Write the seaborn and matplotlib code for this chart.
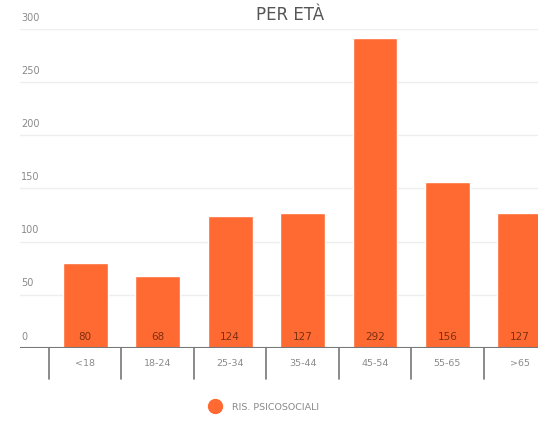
import matplotlib
matplotlib.use("Agg")
import matplotlib.pyplot as plt
import matplotlib.transforms as mtransforms
from matplotlib.lines import Line2D
import seaborn as sns
import pandas as pd

# Data
age_groups = ["<18", "18-24", "25-34", "35-44", "45-54", "55-65", ">65"]
cases = [80, 68, 124, 127, 292, 156, 127]
y_ticks = [0, 50, 100, 150, 200, 250, 300]
series_name = "RIS. PSICOSOCIALI"
title = "PER ETÀ"

bar_color = "#FF6A33"
label_color = "#7E2F10"
text_gray = "#8a8a8a"

sns.set_theme(style="white")
plt.rcParams["font.family"] = ["DejaVu Sans"]

W, H = 538, 426
fig = plt.figure(figsize=(W / 100, H / 100), dpi=100)
ax_left, ax_bottom, ax_top = 20, 348, 29
ax = fig.add_axes([ax_left / W, 1 - ax_bottom / H, 1 - ax_left / W, (ax_bottom - ax_top) / H])

df = pd.DataFrame({"group": age_groups, "value": cases})
sns.barplot(data=df, x="group", y="value", order=age_groups, color=bar_color,
            saturation=1, width=0.62, ax=ax, zorder=3)

ax.set_xlim(-0.9, 6.25)
ax.set_ylim(0, 300)
ax.set_xlabel("")
ax.set_ylabel("")

# Horizontal gridlines and left-aligned value labels above them
for t in y_ticks[1:]:
    ax.axhline(t, color="#eeeeee", lw=1, zorder=1)
ax.set_yticks([])
ytrans = mtransforms.blended_transform_factory(ax.transAxes, ax.transData)
for t in y_ticks:
    ax.text(0.002, t + 6, str(t), transform=ytrans, ha="left", va="bottom",
            fontsize=7, color=text_gray)

# Baseline
ax.axhline(0, color="#777777", lw=1.5, zorder=4)
for s in ax.spines.values():
    s.set_visible(False)

# Category labels and separators below the axis
ax.set_xticks(range(len(age_groups)))
ax.set_xticklabels(age_groups, fontsize=6.8, color=text_gray)
ax.tick_params(axis="x", length=0, pad=8)
xtrans = mtransforms.blended_transform_factory(ax.transData, ax.transAxes)
for i in range(len(age_groups) + 1):
    ax.add_line(Line2D([i - 0.5, i - 0.5], [0, -0.097], transform=xtrans,
                       color="#777777", lw=1.2, clip_on=False))

# Value labels at the bottom of each bar
for i, v in enumerate(cases):
    ax.text(i, 6, str(v), ha="center", va="bottom", fontsize=7.5,
            color=label_color, zorder=5)

# Title at the top edge
fig.text(290 / W, 1 - 20 / H, title, ha="center", va="baseline",
         fontsize=12, color="#555555")

# Legend
handle = Line2D([], [], marker="o", linestyle="", markersize=10,
                markerfacecolor=bar_color, markeredgecolor=bar_color)
fig.legend([handle], [series_name], loc="center", bbox_to_anchor=(262 / W, 1 - 407 / H),
           frameon=False, fontsize=6.8, labelcolor=text_gray, handletextpad=0.8)

fig.savefig("out.png", dpi=100)
